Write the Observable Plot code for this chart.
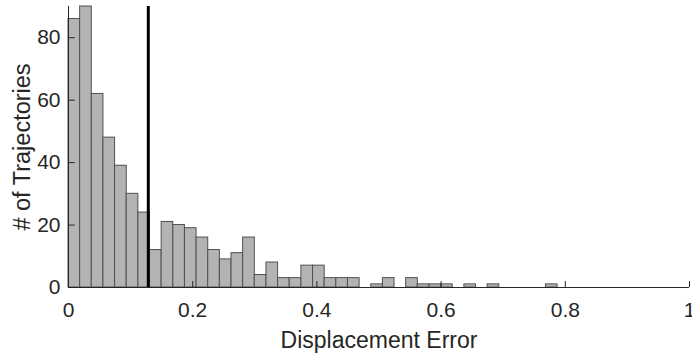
<!DOCTYPE html>
<html>
<head>
<meta charset="utf-8">
<script src="https://cdn.jsdelivr.net/npm/d3@7"></script>
<script src="https://cdn.jsdelivr.net/npm/@observablehq/plot@0.6"></script>
<style>
  html, body { margin: 0; padding: 0; background: #fff; }
  svg { display: block; }
</style>
</head>
<body>
<div id="chart"></div>
<script>
// Histogram counts per bin (bins start at 0, fixed width)
const binWidth = 0.01875;
const counts = [86, 90, 62, 48, 39, 30, 24, 12, 21, 20, 19, 16, 12, 9, 11,
                16, 4, 8, 3, 3, 7, 7, 3, 3, 3,
                0, 1, 3, 0, 3, 1, 1, 1, 0,
                1, 0, 1, 0, 0, 0, 0, 1];
const threshold = 0.1285;
const xTicks = [0, 0.2, 0.4, 0.6, 0.8, 1];
const xTickLabels = ["0", "0.2", "0.4", "0.6", "0.8", "1"];
const yTicks = [0, 20, 40, 60, 80];
const xLabel = "Displacement Error";
const yLabel = "# of Trajectories";

const bins = counts.map((c, i) => ({x1: i * binWidth, x2: (i + 1) * binWidth, count: c}));

const axisColor = "#262626";
const font = "'Liberation Sans', Arial, Helvetica, sans-serif";

const chart = Plot.plot({
  width: 692,
  height: 354,
  marginLeft: 68,
  marginRight: 3,
  marginTop: 6,
  marginBottom: 67,
  style: {fontFamily: font, background: "#fff", overflow: "visible"},
  x: {domain: [0, 1]},
  y: {domain: [0, 90]},
  marks: [
    Plot.rectY(bins, {x1: "x1", x2: "x2", y: "count", fill: "#b3b3b3", stroke: "#505050", strokeWidth: 1}),
    Plot.ruleX([threshold], {stroke: "#000", strokeWidth: 3}),
    // axis lines
    Plot.ruleY([0], {stroke: axisColor, strokeWidth: 1}),
    Plot.ruleX([0], {stroke: axisColor, strokeWidth: 1}),
    // inward ticks
    Plot.ruleX(xTicks, {x: d => d, y1: 0, y2: 1.9, stroke: axisColor}),
    Plot.ruleY(yTicks, {y: d => d, x1: 0, x2: 0.011, stroke: axisColor}),
    Plot.axisX({ticks: xTicks, tickSize: 0, tickPadding: 15, fontSize: 21, fill: axisColor,
                tickFormat: d => xTickLabels[xTicks.indexOf(d)], label: null}),
    Plot.axisY({ticks: yTicks, tickSize: 0, tickPadding: 8, fontSize: 21, fill: axisColor, label: null}),
    Plot.text([xLabel], {frameAnchor: "bottom", dy: 53, lineAnchor: "middle", fontSize: 23, fill: axisColor}),
    Plot.text([yLabel], {frameAnchor: "left", dx: -46, rotate: -90, textAnchor: "middle", lineAnchor: "middle", fontSize: 23.5, fill: axisColor})
  ]
});
document.getElementById("chart").appendChild(chart);
</script>
</body>
</html>
